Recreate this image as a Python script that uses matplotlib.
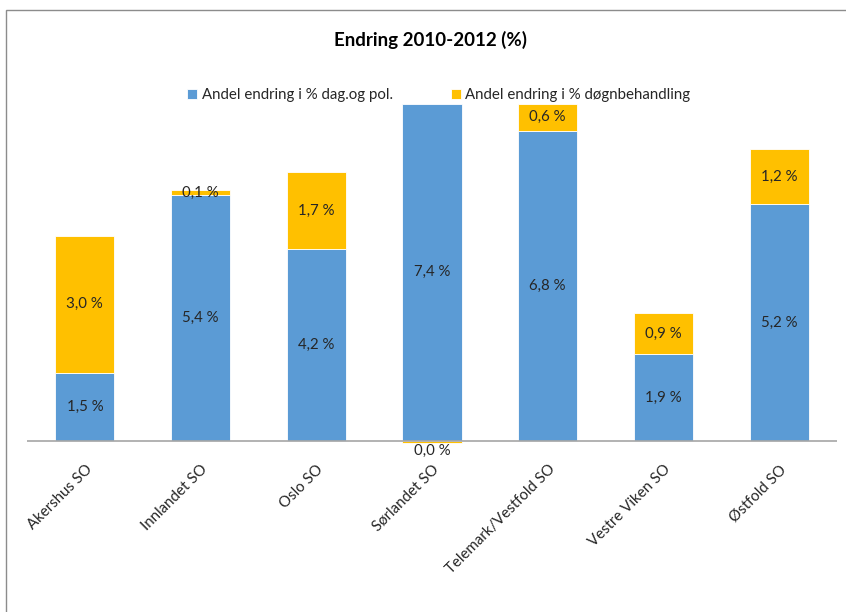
import matplotlib
matplotlib.use("Agg")
import matplotlib.pyplot as plt
from matplotlib.patches import Rectangle

plt.rcParams['font.family'] = ['Lato', 'DejaVu Sans']

categories = ["Akershus SO", "Innlandet SO", "Oslo SO", "Sørlandet SO",
              "Telemark/Vestfold SO", "Vestre Viken SO", "Østfold SO"]
dag_pol = [1.5, 5.4, 4.2, 7.4, 6.8, 1.9, 5.2]
dogn = [3.0, 0.1, 1.7, -0.04, 0.6, 0.9, 1.2]
series_names = ["Andel endring i % dag.og pol.", "Andel endring i % døgnbehandling"]
title = "Endring 2010-2012 (%)"

blue = "#5B9BD5"
gold = "#FFC000"

W, H = 846, 612
fig = plt.figure(figsize=(W / 100, H / 100), dpi=100)

ppu = 45.6  # pixels per unit on the value axis
zero_px = 441
top_px = 103
ymin, ymax = -0.1, (zero_px - top_px) / ppu
bottom_px = zero_px - ymin * ppu
ax = fig.add_axes([27 / W, 1 - bottom_px / H, (837 - 27) / W, (bottom_px - top_px) / H])

x = range(len(categories))
width = 0.51
ax.bar(x, dag_pol, width, color=blue, edgecolor="white", linewidth=0.6,
       label=series_names[0], clip_on=False)
bases = [b if d >= 0 else 0 for b, d in zip(dag_pol, dogn)]
ax.bar(x, dogn, width, bottom=bases, color=gold, edgecolor="white", linewidth=0.6,
       label=series_names[1], clip_on=False)


def fmt(v):
    return f"{round(v, 1) + 0.0:.1f} %".replace(".", ",")


fs = 10.8
for i, (b, d) in enumerate(zip(dag_pol, dogn)):
    ax.text(i, b / 2, fmt(b), ha="center", va="center", fontsize=fs, color="#262626")
    if d >= 0:
        ax.text(i, b + d / 2, fmt(d), ha="center", va="center", fontsize=fs, color="#262626")
    else:
        ax.text(i, d - 0.02, fmt(d), ha="center", va="top", fontsize=fs, color="#262626")

ax.set_xlim(-0.5, len(categories) - 0.5)
ax.set_ylim(ymin, ymax)
ax.axhline(0, color="#A6A6A6", linewidth=1.2, zorder=3)
for s in ax.spines.values():
    s.set_visible(False)
ax.set_yticks([])
ax.set_xticks(list(x))
ax.set_xticklabels(categories, rotation=45, ha="right", rotation_mode="anchor",
                   fontsize=fs, color="#262626")
ax.tick_params(axis="x", length=0, pad=12)

fig.text(430 / W, 1 - 40 / H, title, ha="center", va="center", fontsize=13.5,
         fontweight="bold", color="black")

fig.legend(loc="center", bbox_to_anchor=(439 / W, 1 - 95 / H), ncol=2, frameon=False,
           fontsize=fs, handlelength=0.65, handleheight=0.65, handletextpad=0.3,
           columnspacing=3.9, labelcolor="#262626")

fig.patches.append(Rectangle((6 / W, -0.1), 1.2, 1 - 10 / H + 0.1, transform=fig.transFigure,
                             fill=False, edgecolor="#8C8C8C", linewidth=1.0))

fig.savefig("out.png", dpi=100)
